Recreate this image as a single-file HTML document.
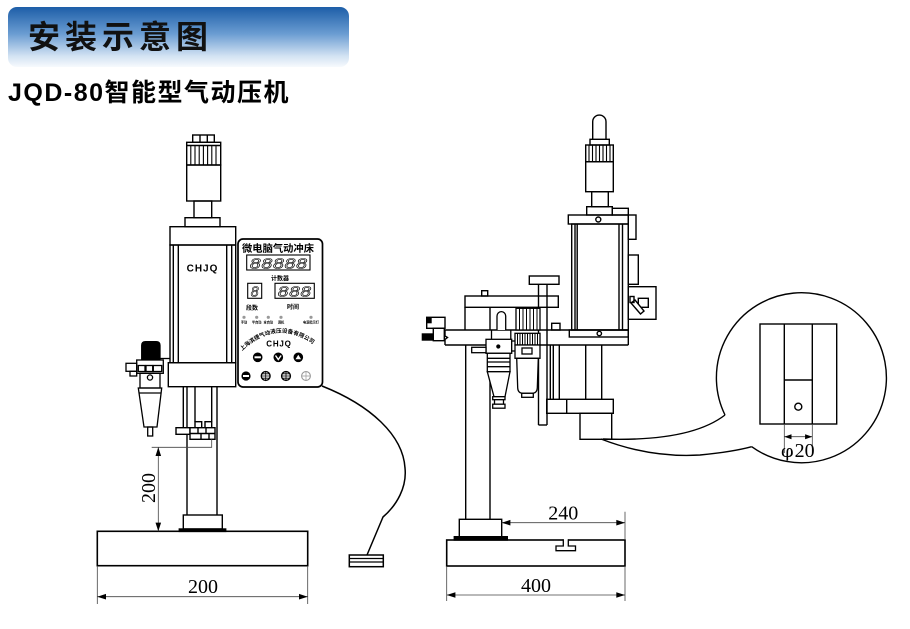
<!DOCTYPE html>
<html><head><meta charset="utf-8">
<style>
html,body{margin:0;padding:0;background:#fff;}
svg{display:block;}
</style></head><body>
<svg width="910" height="629" viewBox="0 0 910 629" xmlns="http://www.w3.org/2000/svg">
<defs>
<linearGradient id="hg" x1="0" y1="0" x2="0" y2="1">
<stop offset="0" stop-color="#1d5ea8"/>
<stop offset="0.45" stop-color="#6b9dd2"/>
<stop offset="0.82" stop-color="#d3e3f3"/>
<stop offset="1" stop-color="#f7fafd"/>
</linearGradient>
<path id="arcp" d="M242,351 Q279,316 318,348"/>
</defs>
<rect width="910" height="629" fill="#fff"/>

<!-- Header -->
<rect x="8" y="7" width="341" height="60" rx="9" fill="url(#hg)"/>
<text x="28" y="48" font-family="'Liberation Sans','Noto Sans CJK SC',sans-serif" font-size="32" font-weight="bold" letter-spacing="5" fill="#111">安装示意图</text>
<text x="8" y="101" font-family="'Liberation Sans','Noto Sans CJK SC',sans-serif" font-size="25" font-weight="bold" letter-spacing="1.5" fill="#000">JQD-80智能型气动压机</text>

<!-- ================= LEFT MACHINE ================= -->
<g fill="none" stroke="#000" stroke-width="1.4">
 <rect x="192.7" y="135" width="21.6" height="7.3"/>
 <line x1="200" y1="135" x2="200" y2="142.3"/>
 <line x1="207.3" y1="135" x2="207.3" y2="142.3"/>
 <rect x="186.7" y="142.3" width="34" height="22.7"/>
 <line x1="186.7" y1="145.5" x2="220.7" y2="145.5"/>
 <g stroke-width="1.1">
 <line x1="190.8" y1="145.5" x2="190.8" y2="165"/>
 <line x1="195" y1="145.5" x2="195" y2="165"/>
 <line x1="199.2" y1="145.5" x2="199.2" y2="165"/>
 <line x1="203.4" y1="145.5" x2="203.4" y2="165"/>
 <line x1="207.6" y1="145.5" x2="207.6" y2="165"/>
 <line x1="211.8" y1="145.5" x2="211.8" y2="165"/>
 <line x1="216" y1="145.5" x2="216" y2="165"/>
 </g>
 <rect x="186.7" y="165" width="34" height="36"/>
 <rect x="194" y="201" width="17.7" height="16.7"/>
 <rect x="185" y="217.7" width="35" height="9"/>
 <rect x="170" y="226.7" width="65.7" height="18.3"/>
 <rect x="170" y="245" width="65.7" height="117.7"/>
 <line x1="173.3" y1="245" x2="173.3" y2="362.7"/>
 <line x1="178.3" y1="245" x2="178.3" y2="362.7"/>
 <line x1="226.7" y1="245" x2="226.7" y2="362.7"/>
 <line x1="231.7" y1="245" x2="231.7" y2="362.7"/>
 <rect x="168.3" y="362.7" width="67.4" height="24"/>
 <line x1="183.3" y1="386.7" x2="183.3" y2="427.7"/>
 <line x1="187" y1="386.7" x2="187" y2="515"/>
 <line x1="217" y1="386.7" x2="217" y2="515"/>
 <line x1="195" y1="386.7" x2="195" y2="421.7"/>
 <line x1="211.7" y1="386.7" x2="211.7" y2="421.7"/>
 <rect x="195" y="421.7" width="6.7" height="6" fill="#fff"/>
 <rect x="205" y="421.7" width="6.7" height="6" fill="#fff"/>
 <rect x="176" y="427.7" width="14" height="6.6" fill="#fff"/>
 <rect x="190" y="427.7" width="25" height="11.6" fill="#fff"/>
 <line x1="190" y1="433.5" x2="215" y2="433.5"/>
 <line x1="198" y1="427.7" x2="198" y2="433.5"/>
 <line x1="206" y1="427.7" x2="206" y2="433.5"/>
 <line x1="201" y1="433.5" x2="201" y2="439.3"/>
 <line x1="209" y1="433.5" x2="209" y2="439.3"/>
 <rect x="183.3" y="515" width="39" height="14"/>
 <rect x="179.3" y="529" width="46.4" height="2.4" fill="#000"/>
 <rect x="97.3" y="531.3" width="210.4" height="34.4" stroke-width="1.6"/>
</g>
<text x="202.5" y="271.5" text-anchor="middle" font-family="'Liberation Sans',sans-serif" font-size="10" font-weight="bold" letter-spacing="1" fill="#000">CHJQ</text>

<!-- Left filter -->
<g fill="none" stroke="#000" stroke-width="1.3">
 <path d="M141.7,359 L141.7,345.5 Q141.7,341.7 145.5,341.7 L156.2,341.7 Q160,341.7 160,345.5 L160,359 Z" fill="#000"/>
 <line x1="160" y1="358.5" x2="170" y2="358.5"/>
 <rect x="136.7" y="360" width="26.6" height="13.3"/>
 <rect x="138.3" y="365.5" width="6.7" height="6"/>
 <rect x="146" y="365.5" width="6.7" height="6"/>
 <rect x="153.3" y="365.5" width="8.4" height="6"/>
 <rect x="126" y="363.3" width="10.7" height="8"/>
 <rect x="130" y="371.3" width="6.7" height="4.7"/>
 <rect x="140" y="373.3" width="20" height="14.7"/>
 <circle cx="150" cy="377.5" r="2.6"/>
 <path d="M138.3,388 L161.7,388 L157,427 L144,427 Z"/>
 <line x1="139" y1="393" x2="161" y2="393"/>
 <rect x="147.7" y="427" width="5" height="9"/>
</g>

<!-- Control panel -->
<rect x="238" y="239" width="84.5" height="148" rx="5" fill="#fff" stroke="#000" stroke-width="1.7"/>
<text x="242" y="252" textLength="72" lengthAdjust="spacingAndGlyphs" font-family="'Liberation Sans','Noto Sans CJK SC',sans-serif" font-size="10" font-weight="bold" fill="#000">微电脑气动冲床</text>
<g fill="none" stroke="#000" stroke-width="1.1">
 <rect x="246.7" y="255" width="63.3" height="15"/>
 <rect x="247.7" y="283.3" width="14" height="15"/>
 <rect x="275" y="283.3" width="39.3" height="15"/>
</g>
<g font-family="'Liberation Mono',monospace" font-style="italic" font-size="15" fill="none" stroke="#000" stroke-width="0.6">
 <text x="249.5" y="268.5" textLength="58" lengthAdjust="spacingAndGlyphs">88888</text>
 <text x="250.5" y="296.5" textLength="8.5" lengthAdjust="spacingAndGlyphs">8</text>
 <text x="277.5" y="296.5" textLength="34" lengthAdjust="spacingAndGlyphs">888</text>
</g>
<g font-family="'Liberation Sans','Noto Sans CJK SC',sans-serif" font-weight="bold" fill="#000" text-anchor="middle">
 <text x="280" y="280.5" font-size="6">计数器</text>
 <text x="252" y="310" font-size="6">段数</text>
 <text x="293" y="309" font-size="6">时间</text>
</g>
<g fill="#999">
 <circle cx="244" cy="317.3" r="1.6"/>
 <circle cx="256.7" cy="317.3" r="1.6"/>
 <circle cx="268.3" cy="317.3" r="1.6"/>
 <circle cx="281" cy="317.3" r="1.6"/>
 <circle cx="311" cy="317.3" r="1.6"/>
</g>
<g font-family="'Liberation Sans','Noto Sans CJK SC',sans-serif" font-size="3.2" font-weight="bold" fill="#000" text-anchor="middle">
 <text x="244" y="323.5">手动</text>
 <text x="256.7" y="323.5">半自动</text>
 <text x="268.3" y="323.5">全自动</text>
 <text x="281" y="323.5">调机</text>
 <text x="311" y="323.5">电源指示灯</text>
</g>
<text font-family="'Liberation Sans','Noto Sans CJK SC',sans-serif" font-size="5.6" font-weight="bold" fill="#000"><textPath href="#arcp">上海滨捷气动液压设备有限公司</textPath></text>
<text x="279" y="346.5" text-anchor="middle" font-family="'Liberation Sans',sans-serif" font-size="8" font-weight="bold" letter-spacing="0.8" fill="#000">CHJQ</text>
<g>
 <circle cx="257.7" cy="357.3" r="4.8" fill="#000"/>
 <rect x="254.5" y="356.3" width="6.4" height="2" fill="#fff"/>
 <circle cx="278.3" cy="357.3" r="4.8" fill="#000"/>
 <path d="M275.5,355.5 L278.3,359.5 L281.1,355.5" fill="none" stroke="#fff" stroke-width="1.4"/>
 <circle cx="298.3" cy="357.3" r="4.8" fill="#000"/>
 <path d="M295.5,359.3 L298.3,354.7 L301.1,359.3 Z" fill="#fff"/>
 <circle cx="246" cy="376" r="4.6" fill="#000"/>
 <rect x="243" y="375" width="6" height="2" fill="#fff"/>
 <circle cx="265.7" cy="376" r="4.4" fill="#fff" stroke="#000" stroke-width="1.4"/>
 <path d="M261.5,376 H269.9 M265.7,372 V380 M262.5,373.8 H268.9 M262.5,378.2 H268.9" stroke="#000" stroke-width="0.8"/>
 <circle cx="286" cy="376" r="4.4" fill="#fff" stroke="#000" stroke-width="1.4"/>
 <path d="M281.8,376 H290.2 M286,372 V380 M282.8,373.8 H289.2 M282.8,378.2 H289.2" stroke="#000" stroke-width="0.8"/>
 <circle cx="306" cy="376" r="4.4" fill="#fff" stroke="#999" stroke-width="1.1"/>
 <path d="M301.8,376 H310.2 M306,372 V380" stroke="#999" stroke-width="0.7"/>
</g>

<!-- cable and pedal -->
<path d="M322,386 C370,405 403,435 405,468 C407,487 397,505 383,517 L367,555" fill="none" stroke="#000" stroke-width="1.5"/>
<rect x="349.3" y="555" width="34" height="11.7" fill="#fff" stroke="#000" stroke-width="1.5"/>
<line x1="349.3" y1="558.5" x2="383.3" y2="558.5" stroke="#000" stroke-width="1.2"/>
<line x1="349.3" y1="562" x2="383.3" y2="562" stroke="#000" stroke-width="1.2"/>

<!-- left dimensions -->
<g stroke="#444" stroke-width="0.8" fill="none">
 <polyline points="211.7,439.3 211.7,447.3 151.7,447.3"/>
 <line x1="158.3" y1="447.3" x2="158.3" y2="531.3"/>
 <line x1="97.3" y1="566" x2="97.3" y2="604"/>
 <line x1="307.7" y1="566" x2="307.7" y2="604"/>
 <line x1="97.3" y1="596.7" x2="307.7" y2="596.7"/>
</g>
<g fill="#000">
 <polygon points="158.3,447.3 155.5,456 161.1,456"/>
 <polygon points="158.3,531.3 155.5,522.6 161.1,522.6"/>
 <polygon points="97.3,596.7 106,593.9 106,599.5"/>
 <polygon points="307.7,596.7 299,593.9 299,599.5"/>
</g>
<text transform="translate(155,488) rotate(-90)" text-anchor="middle" font-family="'Liberation Serif',serif" font-size="20" fill="#000">200</text>
<text x="203" y="593" text-anchor="middle" font-family="'Liberation Serif',serif" font-size="20" fill="#000">200</text>

<!-- ================= RIGHT MACHINE ================= -->
<g fill="none" stroke="#000" stroke-width="1.4">
 <path d="M592.7,139.3 L592.7,121.7 A6.65,6.65 0 0 1 606,121.7 L606,139.3"/>
 <rect x="590" y="139.3" width="19.3" height="5.7"/>
 <rect x="585.7" y="145" width="27.6" height="16.7"/>
 <g stroke-width="1.1">
 <line x1="589" y1="145" x2="589" y2="161.7"/>
 <line x1="592.5" y1="145" x2="592.5" y2="161.7"/>
 <line x1="596" y1="145" x2="596" y2="161.7"/>
 <line x1="599.5" y1="145" x2="599.5" y2="161.7"/>
 <line x1="603" y1="145" x2="603" y2="161.7"/>
 <line x1="606.5" y1="145" x2="606.5" y2="161.7"/>
 <line x1="610" y1="145" x2="610" y2="161.7"/>
 </g>
 <rect x="585.7" y="161.7" width="27.6" height="30"/>
 <rect x="591.7" y="191.7" width="16.6" height="15"/>
 <rect x="586.7" y="206.7" width="25.6" height="8.3"/>
 <rect x="612.3" y="208.3" width="16" height="6.7"/>
 <rect x="568.3" y="215" width="60" height="9"/>
 <circle cx="598.3" cy="219.5" r="2.5"/>
 <rect x="571.7" y="224" width="56.6" height="106"/>
 <line x1="575" y1="224" x2="575" y2="330"/>
 <line x1="577.2" y1="224" x2="577.2" y2="330"/>
 <line x1="619" y1="224" x2="619" y2="330"/>
 <line x1="622.5" y1="224" x2="622.5" y2="330"/>
 <rect x="628.3" y="215" width="7.7" height="24.3"/>
 <rect x="628.3" y="255" width="10" height="29.3"/>
 <rect x="628.3" y="286.7" width="27.7" height="32.6"/>
 <rect x="638.3" y="298.3" width="10" height="9"/>
 <path d="M631,303 L635,300 L644,311 L640.5,314 Z" fill="#fff"/>
 <rect x="630" y="296.5" width="4" height="6"/>
 <line x1="445" y1="330" x2="628.3" y2="330"/>
 <line x1="445" y1="345" x2="628.3" y2="345"/>
 <line x1="628.3" y1="330" x2="628.3" y2="345"/>
 <path d="M445,330 L445,336 L447.5,337.5 L445,339.5 L445,345"/>
 <rect x="569.3" y="330" width="59" height="7"/>
 <circle cx="599.3" cy="333.5" r="2.2"/>
 <rect x="551.7" y="323.3" width="8.3" height="6.7"/>
 <rect x="465" y="296" width="93.3" height="11.3"/>
 <rect x="481.7" y="290.7" width="6" height="5.3"/>
 <rect x="529.3" y="276" width="29.7" height="8.3"/>
 <line x1="538.5" y1="284.3" x2="538.5" y2="425"/>
 <line x1="547" y1="284.3" x2="547" y2="425"/>
 <line x1="538.5" y1="425" x2="547" y2="425"/>
 <line x1="465" y1="307.3" x2="465" y2="330"/>
 <line x1="490" y1="307.3" x2="490" y2="330"/>
 <line x1="465.7" y1="345" x2="465.7" y2="519.3"/>
 <line x1="490" y1="345" x2="490" y2="519.3"/>
 <rect x="426.7" y="317.3" width="18.3" height="11"/>
 <rect x="433.3" y="328.3" width="11" height="12.4"/>
 <line x1="550.3" y1="345" x2="550.3" y2="399.3"/>
 <line x1="553.3" y1="345" x2="553.3" y2="399.3"/>
 <line x1="559.3" y1="345" x2="559.3" y2="399.3"/>
 <line x1="585.7" y1="345" x2="585.7" y2="399.3"/>
 <line x1="601.7" y1="345" x2="601.7" y2="399.3"/>
 <rect x="546.7" y="399.3" width="66.6" height="14"/>
 <line x1="566.7" y1="399.3" x2="566.7" y2="413.3"/>
 <rect x="580" y="413.3" width="31.7" height="26"/>
</g>
<rect x="426.7" y="317.3" width="5" height="6" fill="#000"/>
<rect x="421.7" y="333.3" width="11.6" height="7.4" fill="#000"/>

<!-- Filter 1 (regulator) -->
<g fill="#fff" stroke="#000" stroke-width="1.3">
 <path d="M497,330 L497,316 A4.35,4.35 0 0 1 505.7,316 L505.7,330"/>
 <line x1="491.5" y1="330" x2="491.5" y2="339.3"/>
 <line x1="510.8" y1="330" x2="510.8" y2="339.3"/>
 <rect x="486" y="339.3" width="25.7" height="14"/>
 <rect x="471.7" y="347.3" width="14.3" height="5.4"/>
 <rect x="511.7" y="341" width="4.3" height="10"/>
 <rect x="487.3" y="353.3" width="22.7" height="18.4"/>
 <line x1="487.3" y1="358.3" x2="510" y2="358.3"/>
 <line x1="487.3" y1="362" x2="510" y2="362"/>
 <line x1="487.3" y1="366.7" x2="510" y2="366.7"/>
 <path d="M487.3,371.7 L510,371.7 L505,396.7 L494,396.7 Z"/>
 <rect x="492.7" y="396.7" width="12.3" height="3"/>
 <rect x="494.5" y="399.7" width="9" height="4.5"/>
 <rect x="492.7" y="404.2" width="12.3" height="4"/>
</g>
<circle cx="498.3" cy="346.5" r="2.1" fill="#000"/>

<!-- Filter 2 (lubricator) -->
<g fill="#fff" stroke="#000" stroke-width="1.3">
 <rect x="516" y="308.3" width="24" height="21.7"/>
 <rect x="515" y="333.3" width="25" height="11.7"/>
 <rect x="515" y="345" width="25" height="13.3"/>
 <rect x="522" y="348" width="10" height="6"/>
 <path d="M516.7,358.3 L538.3,358.3 L537.3,388 Q537,393.3 532,393.3 L523,393.3 Q518,393.3 517.7,388 Z"/>
 <rect x="521.7" y="393.3" width="11.6" height="4"/>
</g>
<g stroke="#000" stroke-width="1">
 <line x1="519.5" y1="308.3" x2="519.5" y2="330"/>
 <line x1="523" y1="308.3" x2="523" y2="330"/>
 <line x1="526.5" y1="308.3" x2="526.5" y2="330"/>
 <line x1="530" y1="308.3" x2="530" y2="330"/>
 <line x1="533.5" y1="308.3" x2="533.5" y2="330"/>
 <line x1="537" y1="308.3" x2="537" y2="330"/>
 <line x1="517.5" y1="333.3" x2="517.5" y2="345"/>
 <line x1="520" y1="333.3" x2="520" y2="345"/>
 <line x1="522.5" y1="333.3" x2="522.5" y2="345"/>
 <line x1="525" y1="333.3" x2="525" y2="345"/>
 <line x1="527.5" y1="333.3" x2="527.5" y2="345"/>
 <line x1="530" y1="333.3" x2="530" y2="345"/>
 <line x1="532.5" y1="333.3" x2="532.5" y2="345"/>
 <line x1="535" y1="333.3" x2="535" y2="345"/>
 <line x1="537.5" y1="333.3" x2="537.5" y2="345"/>
</g>

<!-- Right base -->
<g fill="none" stroke="#000" stroke-width="1.4">
 <rect x="459.3" y="519.3" width="42.4" height="17.4" fill="#fff"/>
 <rect x="454.3" y="536.7" width="53" height="3.3" fill="#000"/>
 <rect x="446.7" y="540" width="178.3" height="26" stroke-width="1.6"/>
</g>
<line x1="563.6" y1="540" x2="568" y2="540" stroke="#fff" stroke-width="2.2"/>
<path d="M563.3,539.2 L563.3,546 L556,546 L556,550.7 L575.5,550.7 L575.5,546 L568.3,546 L568.3,539.2" fill="#fff" stroke="#000" stroke-width="1.3"/>

<!-- right dimensions -->
<g stroke="#444" stroke-width="0.8" fill="none">
 <line x1="501.7" y1="522.7" x2="625" y2="522.7"/>
 <line x1="625" y1="511.7" x2="625" y2="540"/>
 <line x1="446.7" y1="566" x2="446.7" y2="601"/>
 <line x1="625" y1="566" x2="625" y2="601"/>
 <line x1="446.7" y1="595" x2="625" y2="595"/>
</g>
<g fill="#000">
 <polygon points="501.7,522.7 510.4,519.9 510.4,525.5"/>
 <polygon points="625,522.7 616.3,519.9 616.3,525.5"/>
 <polygon points="446.7,595 455.4,592.2 455.4,597.8"/>
 <polygon points="625,595 616.3,592.2 616.3,597.8"/>
</g>
<text x="563.3" y="519.5" text-anchor="middle" font-family="'Liberation Serif',serif" font-size="20" fill="#000">240</text>
<text x="536" y="592" text-anchor="middle" font-family="'Liberation Serif',serif" font-size="20" fill="#000">400</text>

<!-- ================= DETAIL CIRCLE ================= -->
<g fill="none" stroke="#000" stroke-width="1.4">
 <path d="M725,415 A85,85 0 1 1 751.7,446.7"/>
 <path d="M725,415 Q690,442 603,439"/>
 <path d="M601,439 Q650,458 700,455 Q732,452 751.7,446.7"/>
 <rect x="760" y="324" width="76.7" height="100"/>
 <line x1="784.3" y1="324" x2="784.3" y2="424"/>
 <line x1="812.3" y1="324" x2="812.3" y2="424"/>
 <line x1="784.3" y1="380" x2="812.3" y2="380"/>
 <circle cx="798.3" cy="406.7" r="3.5"/>
</g>
<g stroke="#444" stroke-width="0.8">
 <line x1="784.3" y1="424" x2="784.3" y2="453"/>
 <line x1="812.3" y1="424" x2="812.3" y2="453"/>
 <line x1="784.3" y1="436.7" x2="812.3" y2="436.7"/>
</g>
<g fill="#000">
 <polygon points="784.3,436.7 791.5,434.2 791.5,439.2"/>
 <polygon points="812.3,436.7 805.1,434.2 805.1,439.2"/>
</g>
<text x="781" y="457" font-family="'DejaVu Serif','Liberation Serif',serif" font-size="18" fill="#000">φ<tspan font-family="'Liberation Serif',serif" font-size="20" dx="1">20</tspan></text>
</svg>
</body></html>
